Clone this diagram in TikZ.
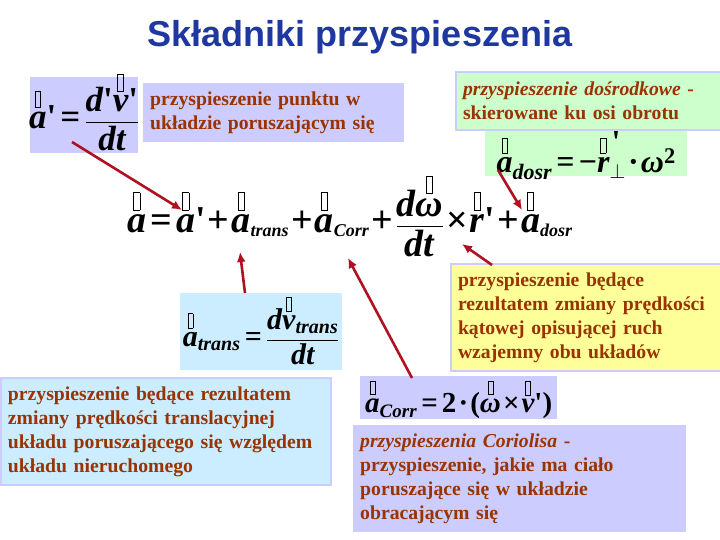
\documentclass[tikz,border=0pt]{standalone}
\usepackage{amsmath}
\usepackage{fontspec}
\setmainfont{Liberation Serif}
\setsansfont{Liberation Sans}
\usetikzlibrary{arrows.meta}
\definecolor{lav}{RGB}{204,204,255}
\definecolor{lgreen}{RGB}{204,255,204}
\definecolor{lyellow}{RGB}{255,255,153}
\definecolor{lblue}{RGB}{204,236,255}
\definecolor{txtbrown}{RGB}{153,51,0}
\definecolor{titleblue}{RGB}{31,56,160}
\definecolor{arrowred}{RGB}{176,16,32}
\newcommand{\tofu}{{\fboxsep0pt\fboxrule0.6pt\fbox{\rule{0pt}{0.45em}\hspace{0.15em}}}}
\newcommand{\vt}[1]{\overset{\textstyle\text{\tofu}}{#1}}
\newcommand{\vtp}[1]{\overset{\textstyle\text{\tofu\rlap{\bfseries\,\textquotesingle}}}{#1}}
\newcommand{\bi}[1]{\text{\bfseries\itshape #1}}
\newcommand{\pr}{\text{\bfseries\textquotesingle}}
\newcommand{\subsz}{18pt}
\newcommand{\sbx}[1]{_{\text{\fontsize{\subsz}{\subsz}\selectfont\bfseries\itshape #1}}}
\newcommand{\eqs}{\mathrel{\text{\bfseries =}}}
\newcommand{\pls}{\mathbin{\text{\bfseries +}}}
\newcommand{\tms}{\mathbin{\text{\bfseries ×}}}
\newcommand{\cdt}{\mathbin{\text{\bfseries ·}}}
\newcommand{\tightsp}{\thickmuskip=3mu\medmuskip=1.5mu\thinmuskip=1mu}
\tikzset{
  txtbox/.style={anchor=north west, inner xsep=7pt, inner ysep=0pt, align=left,
    text=txtbrown, font=\fontsize{19.7}{24}\selectfont\bfseries},
  frmbox/.style={anchor=north west, inner sep=0pt},
  lavborder/.style={draw=lav, line width=2pt},
  redarrow/.style={draw=arrowred, line width=2.6pt, -{Latex[length=10pt,width=9pt]}},
}
\begin{document}
\begin{tikzpicture}[x=1pt,y=-1pt]
\useasboundingbox (0,0) rectangle (720,540);
\fill[white] (0,0) rectangle (720,540);

% title
\node[font=\sffamily\bfseries\fontsize{36}{42}\selectfont, text=titleblue] (title) at (360,37) {Składniki przyspieszenia};

% formula a' box
\node[frmbox, fill=lav, minimum width=108pt, minimum height=76pt] (f1) at (30,77) {};
\node[font=\fontsize{35}{40}\selectfont] (f1t) at ([yshift=4pt]f1.center) {$\tightsp\vt{\bi{a}}\pr \eqs \dfrac{\bi{d}\pr\vt{\bi{v}}\pr}{\bi{dt}}$};

% text box punktu
\node[txtbox, fill=lav, minimum width=261pt, minimum height=59pt, text width=247pt] (t1) at (143,83)
  {przyspieszenie punktu w\\układzie poruszającym się};

% green text box
\node[txtbox, fill=lgreen, lavborder, minimum width=265pt, minimum height=58pt, text width=251pt] (t2) at (455,71)
  {\itshape przyspieszenie dośrodkowe\upshape{} -\\skierowane ku osi obrotu};

% green formula
\node[frmbox, fill=lgreen, minimum width=202pt, minimum height=45pt] (f2) at (485,131) {};
\renewcommand{\subsz}{22pt}
\node[font=\fontsize{32}{38}\selectfont] (f2t) at ([yshift=-1pt]f2.center) {$\tightsp\vt{\bi{a}}\sbx{dosr} \eqs \text{\bfseries −}\vtp{\bi{r}}_{\perp}\cdt\bi{ω}^{\text{\bfseries 2}}$};

% main equation
\renewcommand{\subsz}{18pt}
\node[font=\fontsize{38}{44}\selectfont, anchor=base] (eq) at (350,233)
  {$\tightsp\vt{\bi{a}} \eqs \vt{\bi{a}}\pr \pls \vt{\bi{a}}\sbx{trans} \pls \vt{\bi{a}}\sbx{Corr} \pls \dfrac{\bi{d}\vt{\bi{ω}}}{\bi{dt}} \tms \vt{\bi{r}}\pr \pls \vt{\bi{a}}\sbx{dosr}$};

% yellow box
\node[txtbox, fill=lyellow, lavborder, minimum width=270pt, minimum height=107pt, text width=256pt] (t3) at (450,263)
  {przyspieszenie będące\\rezultatem zmiany prędkości\\kątowej opisującej ruch\\wzajemny obu układów};

% a_trans formula
\node[frmbox, fill=lblue, minimum width=162pt, minimum height=77pt] (f3) at (180,293) {};
\renewcommand{\subsz}{20pt}
\node[font=\fontsize{30}{36}\selectfont] (f3t) at ([yshift=2pt]f3.center) {$\tightsp\vt{\bi{a}}\sbx{trans} \eqs \dfrac{\bi{d}\vt{\bi{v}}\sbx{trans}}{\bi{dt}}$};

% bottom-left text box
\node[txtbox, fill=lblue, lavborder, minimum width=330pt, minimum height=107pt, text width=316pt] (t4) at (0,377)
  {przyspieszenie będące rezultatem\\zmiany prędkości translacyjnej\\układu poruszającego się względem\\układu nieruchomego};

% a_Corr formula
\node[frmbox, fill=lav, minimum width=197pt, minimum height=43pt] (f4) at (360,376) {};
\renewcommand{\subsz}{19pt}
\node[font=\fontsize{29}{35}\selectfont] (f4t) at ([yshift=-1pt]f4.center) {$\tightsp\vt{\bi{a}}\sbx{Corr} \eqs \text{\bfseries 2}\cdt\text{\bfseries (}\vt{\bi{ω}}\tms\vt{\bi{v}}\pr\text{\bfseries )}$};

% Coriolis text box
\node[txtbox, fill=lav, minimum width=333pt, minimum height=107pt, text width=319pt] (t5) at (353,425)
  {\itshape przyspieszenia Coriolisa\upshape{} -\\przyspieszenie, jakie ma ciało\\poruszające się w układzie\\obracającym się};

% arrow coordinates
\coordinate (s1) at (72,142);   \coordinate (e1) at (182,210);
\coordinate (s2) at (498,170);  \coordinate (e2) at (522,210);
\coordinate (s3) at (245,293);  \coordinate (e3) at (240,252);
\coordinate (s4) at (412,378);  \coordinate (e4) at (348,258);
\coordinate (s5) at (492,265);  \coordinate (e5) at (462,244);

\draw[redarrow] (s1) -- (e1);
\draw[redarrow] (s2) -- (e2);
\draw[redarrow] (s3) -- (e3);
\draw[redarrow] (s4) -- (e4);
\draw[redarrow] (s5) -- (e5);
\end{tikzpicture}
\end{document}
